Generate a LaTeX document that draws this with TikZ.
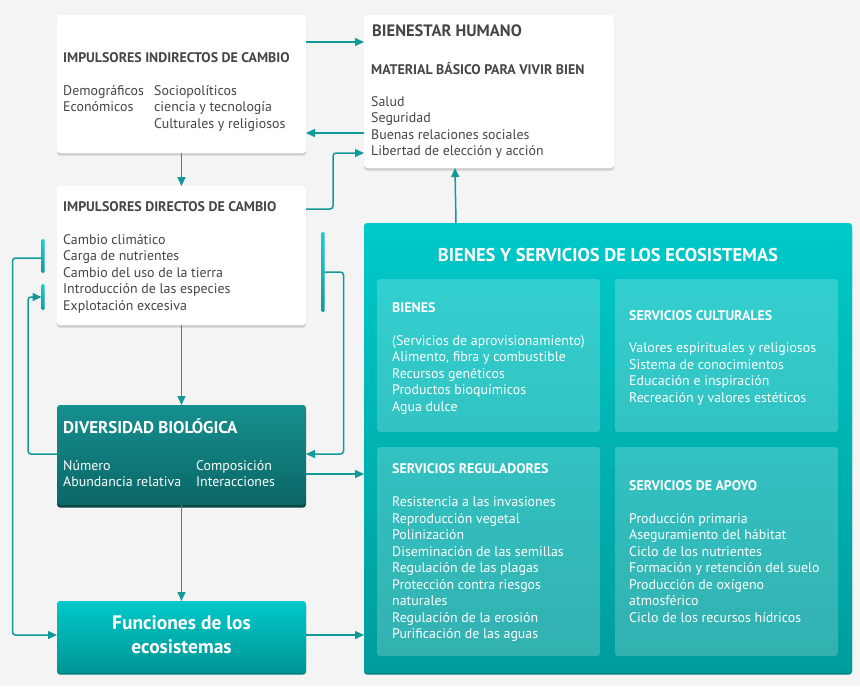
\documentclass[tikz,border=0pt]{standalone}
\usepackage{fontspec}
\setmainfont{PT Sans}
\usetikzlibrary{arrows.meta}
\definecolor{bgc}{HTML}{F4F4F4}
\definecolor{lc}{HTML}{12999A}
\definecolor{txtc}{HTML}{454545}
\definecolor{shc}{HTML}{CFCFCF}
\definecolor{bigtop}{HTML}{00C9C9}
\definecolor{bigbot}{HTML}{009C9C}
\definecolor{divtop}{HTML}{168F8F}
\definecolor{divbot}{HTML}{0B6666}
\definecolor{divsh}{HTML}{0A4545}
\definecolor{barc}{HTML}{1CCFCF}
\newcommand\ml[1]{\begin{tabular}[t]{@{}l@{}}#1\end{tabular}}
\begin{document}
\begin{tikzpicture}[x=1pt,y=-1pt,
  box/.style={rounded corners=3pt, inner sep=0pt, outer sep=0pt, anchor=north west},
  wbox/.style={box, fill=white},
  shbox/.style={rounded corners=3pt, fill=shc},
  conn/.style={draw=lc, line width=1.5pt, rounded corners=3pt},
  arr/.style={conn, -{Triangle[length=9pt,width=8pt]}},
  bar/.style={rectangle, inner sep=0pt, outer sep=0pt, minimum width=3pt, rounded corners=1.2pt, top color=barc, bottom color=lc},
  body/.style={anchor=base west, inner sep=0pt, font=\fontsize{13.9}{16.5}\selectfont, text=txtc},
  head/.style={anchor=base west, inner sep=0pt, font=\fontsize{13.9}{16.5}\selectfont\bfseries, text=txtc},
  wbody/.style={body, text=white},
  whead/.style={head, text=white},
]
\useasboundingbox (0,0) rectangle (860,686);
\fill[bgc] (0,0) rectangle (860,686);

% shadows
\fill[shbox] (57,17) rectangle (306,155.5);
\fill[shbox] (364,17) rectangle (614,170.5);
\fill[shbox] (57,188) rectangle (306,327.5);
\fill[rounded corners=3pt, fill=divsh] (57,407) rectangle (306,507.5);
\fill[rounded corners=3pt, fill=bigbot!80!black] (57,603) rectangle (306,674.5);
\fill[rounded corners=3pt, fill=bigbot!80!black] (364,226) rectangle (852,674.5);

% boxes
\node[wbox, minimum width=249pt, minimum height=138pt] (b1) at (57,15) {};
\node[wbox, minimum width=250pt, minimum height=153pt] (bh) at (364,15) {};
\node[wbox, minimum width=249pt, minimum height=139pt] (b2) at (57,186) {};
\node[box, minimum width=249pt, minimum height=100pt, top color=divtop, bottom color=divbot] (dv) at (57,405) {};
\node[box, minimum width=249pt, minimum height=72pt, top color=bigtop, bottom color=bigbot!95!black] (fn) at (57,601) {};
\node[box, minimum width=488pt, minimum height=450pt, top color=bigtop, bottom color=bigbot] (big) at (364,223) {};
\node[box, minimum width=223pt, minimum height=153pt, fill=white, fill opacity=0.2] (gb) at (377,279) {};
\node[box, minimum width=223pt, minimum height=153pt, fill=white, fill opacity=0.2] (gc) at (615,279) {};
\node[box, minimum width=223pt, minimum height=209pt, fill=white, fill opacity=0.2] (gr) at (377,447) {};
\node[box, minimum width=223pt, minimum height=209pt, fill=white, fill opacity=0.2] (ga) at (615,447) {};

% bars
\node[bar, minimum height=34pt] (bl1) at (43,256) {};
\node[bar, minimum height=26pt] (bl2) at (43,297) {};
\node[bar, minimum height=80pt] (br) at (323,272) {};

% texts box 1
\node[head] (t1) at (63,62) {IMPULSORES INDIRECTOS DE CAMBIO};
\node[body] (t1a) at (63,95) {\ml{Demográficos\\Económicos}};
\node[body] (t1b) at (154,95) {\ml{Sociopolíticos\\ciencia y tecnología\\Culturales y religiosos}};
% bienestar
\node[head, font=\fontsize{16.5}{20}\selectfont\bfseries] (th) at (372,36) {BIENESTAR HUMANO};
\node[head] (thm) at (371,74) {MATERIAL BÁSICO PARA VIVIR BIEN};
\node[body] (thl) at (371,106) {\ml{Salud\\Seguridad\\Buenas relaciones sociales\\Libertad de elección y acción}};
% directos
\node[head] (t2) at (63,211) {IMPULSORES DIRECTOS DE CAMBIO};
\node[body] (t2l) at (63,244) {\ml{Cambio climático\\Carga de nutrientes\\Cambio del uso de la tierra\\Introducción de las especies\\Explotación excesiva}};
% diversidad
\node[whead, font=\fontsize{17}{20}\selectfont\bfseries] (td) at (63,433) {DIVERSIDAD BIOLÓGICA};
\node[wbody] (tda) at (63,470) {\ml{Número\\Abundancia relativa}};
\node[wbody] (tdb) at (196,470) {\ml{Composición\\Interacciones}};
% funciones
\node[anchor=base, inner sep=0pt, text=white, font=\fontsize{19.5}{24}\selectfont\bfseries] (tf) at (181.5,629) {\begin{tabular}[t]{@{}c@{}}Funciones de los\\ecosistemas\end{tabular}};
% big
\node[anchor=base, inner sep=0pt, text=white, font=\fontsize{18.5}{22}\selectfont\bfseries] (tb) at (608,261) {BIENES Y SERVICIOS DE LOS ECOSISTEMAS};
\node[whead] (tg) at (392,312) {BIENES};
\node[wbody] (tgl) at (392,345) {\ml{(Servicios de aprovisionamiento)\\Alimento, fibra y combustible\\Recursos genéticos\\Productos bioquímicos\\Agua dulce}};
\node[whead] (tc) at (629,320) {SERVICIOS CULTURALES};
\node[wbody] (tcl) at (629,352.7) {\ml{Valores espirituales y religiosos\\Sistema de conocimientos\\Educación e inspiración\\Recreación y valores estéticos}};
\node[whead] (tr) at (392,473) {SERVICIOS REGULADORES};
\node[wbody] (trl) at (392,506.5) {\ml{Resistencia a las invasiones\\Reproducción vegetal\\Polinización\\Diseminación de las semillas\\Regulación de las plagas\\Protección contra riesgos\\naturales\\Regulación de la erosión\\Purificación de las aguas}};
\node[whead] (ta) at (629,490) {SERVICIOS DE APOYO};
\node[wbody] (tal) at (629,523) {\ml{Producción primaria\\Aseguramiento del hábitat\\Ciclo de los nutrientes\\Formación y retención del suelo\\Producción de oxígeno\\atmosférico\\Ciclo de los recursos hídricos}};

% connectors
\draw[arr] ([yshift=-27pt]b1.north east) -- ([yshift=-27pt]bh.north west);
\draw[arr] ([yshift=-118pt]bh.north west) -- ([yshift=-118pt]b1.north east);
\draw[arr] ([yshift=-23pt]b2.north east) -- ++(27,0) |- ([yshift=-138pt]bh.north west);
\draw[arr] (b1.south) -- (b2.north);
\draw[arr] ([xshift=92pt]big.north west) -- ([xshift=91pt]bh.south west);
\draw[arr] (b2.south) -- (dv.north);
\draw[arr] (dv.south) -- (fn.north);
\draw[arr] ([yshift=-69pt]dv.north east) -- ([yshift=-251pt]big.north west);
\draw[arr] ([yshift=-34pt]fn.north east) -- ([yshift=-412pt]big.north west);
\draw[arr] ([yshift=-2pt]bl1.west) -- ++(-29,0) |- ([yshift=-34pt]fn.north west);
\draw[arr] ([yshift=-49pt]dv.north west) -- ++(-29,0) |- (bl2.west);
\draw[arr] (br.east) -- ++(19,0) |- ([yshift=-49pt]dv.north east);
\end{tikzpicture}
\end{document}
